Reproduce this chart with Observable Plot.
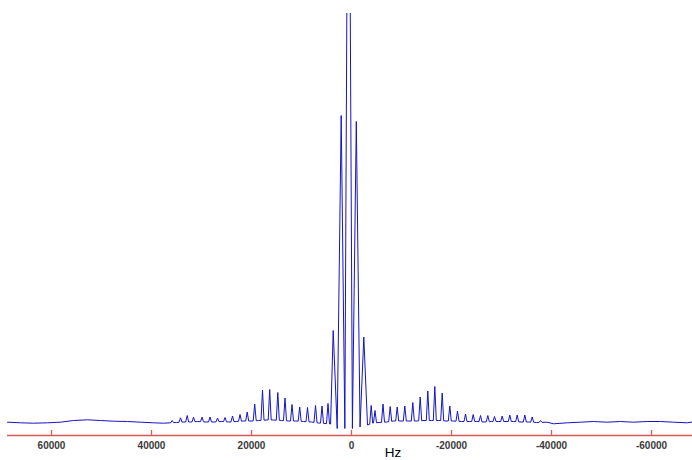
<!DOCTYPE html>
<html><head><meta charset="utf-8">
<script src="https://cdn.jsdelivr.net/npm/d3@7"></script>
<script src="https://cdn.jsdelivr.net/npm/@observablehq/plot@0.6"></script>
<style>html,body{margin:0;padding:0;background:#fff}</style>
</head><body><div id="chart"></div>
<script>
// Spectrum peaks (Hz, intensity above baseline, arbitrary units)
const peakHz = [35860, 34200, 32860, 31600, 29900, 28300, 26800, 25300, 23800, 22300,
  20860, 19360, 17800, 16360, 14740, 13300, 11900, 10360, 8800, 7200,
  5900, 4700, 3660, 2060, 600, -960, -2460, -3940, -4700, -6300,
  -7740, -9140, -10660, -12260, -13740, -15260, -16660, -18140, -19660, -21200,
  -22800, -24340, -25800, -27260, -28600, -30140, -31660, -33140, -34660, -36140, -37800];
const peakHeight = [1.5, 4.2, 6.5, 4.8, 4.8, 5, 4, 4.5, 6, 7.5,
  10, 18, 32, 32.5, 29.5, 24, 17.5, 15, 14.5, 16.5,
  16, 18.5, 91.5, 306.5, 760, 300.5, 85, 16.5, 11.5, 18,
  15.5, 15, 16, 19.5, 25, 31, 35.5, 29, 16, 11,
  8, 7.5, 6.5, 6.5, 5.5, 6, 7, 7, 7, 5, 1.5];
// Level of the trace between consecutive peaks
const gapLevel = [-0.5, 0, 0, 0.5, 0, 0, 0.5, 0, 0.5, 1,
  1, 1.5, 2, 2, 1.5, 1, 1, 0.5, 0, -1,
  -1.5, -2, -6.5, -6.5, -6.5, -5, -3, -1, -0.5, 0,
  1, 1, 1, 1, 1.5, 1.5, 1.5, 1, 1, 0.5,
  0.5, 0.5, 0, 0.5, 0.5, 0.5, 0.5, 0, 0, -0.5];
// Baseline outside the sideband region
const baseHz = [68800, 66200, 63600, 60800, 58200, 55600, 52800, 50200, 47600, 44800, 42200, 39600, 37600,
  -39140, -40400, -43140, -45800, -48400, -51140, -53800, -56400, -59140, -61800, -64400, -67140, -68200];
const baseLevel = [-0.2, -0.8, -1.2, -0.8, -0.2, 1.5, 2.2, 1.5, 0.8, 0.5, -0.2, -0.8, -1.2,
  -0.2, -1.8, -0.8, -0.2, 0.5, -0.2, 0.5, -0.2, 0.5, 0.5, -0.2, -0.8, 0];
const tickValues = [60000, 40000, 20000, 0, -20000, -40000, -60000];
const axisLabel = ["Hz"];

const xDomain = [68800, -68200];
const yDomain = [-13.5, 408.5];

const baseline = baseHz.map((hz, i) => ({hz, v: baseLevel[i]}));
for (let i = 0; i < peakHz.length - 1; i++) baseline.push({hz: (peakHz[i] + peakHz[i + 1]) / 2, v: gapLevel[i]});
baseline.sort((a, b) => b.hz - a.hz);
const baseAt = d3.scaleLinear().domain(baseline.map(d => d.hz)).range(baseline.map(d => d.v));
const spectrum = baseline.slice();
peakHz.forEach((p, i) => {
  const h = peakHeight[i];
  spectrum.push({hz: p, v: h});
  if (h <= 50) spectrum.push({hz: p + 300, v: baseAt(p + 300)}, {hz: p - 300, v: baseAt(p - 300)});
});
spectrum.sort((a, b) => b.hz - a.hz);

const red = "#d9585a";
const chart = Plot.plot({
  width: 692,
  height: 460,
  marginTop: 13,
  marginBottom: 25,
  marginLeft: 7,
  marginRight: 0,
  style: {background: "#fff", fontFamily: "Liberation Sans, Arial, sans-serif"},
  x: {domain: xDomain, axis: null},
  y: {domain: yDomain, axis: null},
  marks: [
    Plot.line(spectrum, {x: "hz", y: "v", stroke: "#1414c8", strokeWidth: 1, clip: true}),
    Plot.ruleY([yDomain[0]], {stroke: red, strokeWidth: 1.6}),
    Plot.axisX(tickValues, {anchor: "bottom", tickSize: 5, dy: -5, stroke: red, strokeWidth: 1.3, fill: "none", label: null}),
    Plot.axisX(tickValues, {anchor: "bottom", tickSize: 0, tickPadding: 6, fill: "#3a3a3a", fontSize: 10, fontWeight: "bold",
      tickFormat: d => String(d), label: null}),
    Plot.text(axisLabel, {frameAnchor: "bottom", dx: 43, dy: 17, text: d => d, fontSize: 13.5, fill: "#000", lineAnchor: "middle"})
  ]
});
document.getElementById("chart").appendChild(chart);
</script>
</body></html>
